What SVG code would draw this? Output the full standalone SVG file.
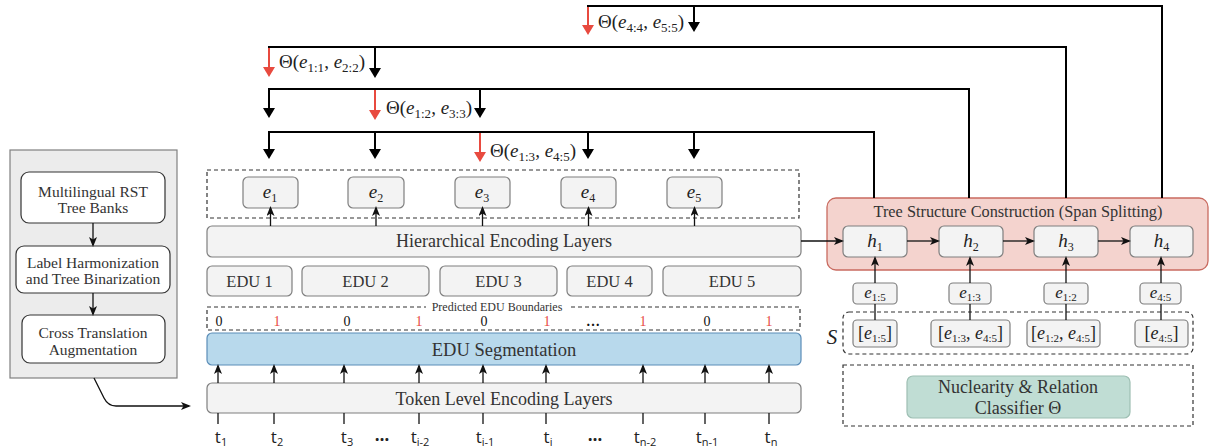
<svg xmlns="http://www.w3.org/2000/svg" width="1210" height="448" viewBox="0 0 1210 448">
<style>
.serif{font-family:"Liberation Serif","DejaVu Serif",serif;fill:#333}
.math{font-family:"Liberation Serif","DejaVu Serif",serif;fill:#222}
.it{font-style:italic}
.sans{font-family:"Open Sans","Liberation Sans",sans-serif;fill:#222}
.node{fill:#f3f3f3;stroke:#7f7f7f;stroke-width:1.2}
.wnode{fill:#fff;stroke:#333;stroke-width:1.2}
.dash{fill:none;stroke:#333;stroke-width:1.2;stroke-dasharray:4 3}
.big{fill:none;stroke:#000;stroke-width:2}
.bigr{fill:none;stroke:#e84a3f;stroke-width:2}
.thin{fill:none;stroke:#111;stroke-width:1.3}
</style>
<defs>
<marker id="ab" viewBox="0 0 10 12" refX="5" refY="6" markerWidth="10" markerHeight="12" markerUnits="userSpaceOnUse" orient="auto"><path d="M0,0 L10,6 L0,12 z" fill="#000"/></marker>
<marker id="ar" viewBox="0 0 10 12" refX="5" refY="6" markerWidth="10" markerHeight="12" markerUnits="userSpaceOnUse" orient="auto"><path d="M0,0 L10,6 L0,12 z" fill="#e84a3f"/></marker>
<marker id="as" viewBox="0 0 10 8" refX="8" refY="4" markerWidth="10" markerHeight="8" markerUnits="userSpaceOnUse" orient="auto"><path d="M0,0 L10,4 L0,8 L2.5,4 z" fill="#111"/></marker>
</defs>
<rect width="1210" height="448" fill="#fff"/>

<!-- Left panel -->
<g id="data-panel">
<rect x="10" y="150" width="167" height="228" fill="#ececec" stroke="#808080" stroke-width="1.2"/>
</g>
<g id="rst-banks">
<rect class="wnode" x="21" y="172" width="144" height="51" rx="8"/>
<text class="serif" x="93" y="197" font-size="15.5" text-anchor="middle" fill="#222">Multilingual RST</text>
<text class="serif" x="93" y="213" font-size="15.5" text-anchor="middle" fill="#222">Tree Banks</text>
</g>
<g id="label-harmonization">
<rect class="wnode" x="16" y="246" width="154" height="47" rx="8"/>
<text class="serif" x="93" y="268" font-size="15.5" text-anchor="middle" fill="#222">Label Harmonization</text>
<text class="serif" x="93" y="284" font-size="15.5" text-anchor="middle" fill="#222">and Tree Binarization</text>
</g>
<g id="cross-translation">
<rect class="wnode" x="22" y="315" width="143" height="48" rx="8"/>
<text class="serif" x="93" y="338" font-size="15.5" text-anchor="middle" fill="#222">Cross Translation</text>
<text class="serif" x="93" y="355" font-size="15.5" text-anchor="middle" fill="#222">Augmentation</text>
</g>

<!-- e nodes -->
<g id="e-nodes-box"><rect class="dash" x="207" y="170" width="592" height="48"/></g>
<g id="e1"><rect class="node" x="243" y="177" width="55" height="31" rx="5"/><text class="math" x="270" y="198" font-size="19" text-anchor="middle"><tspan class="it">e</tspan><tspan font-size="12" dy="4">1</tspan></text></g>
<g id="e2"><rect class="node" x="348" y="177" width="56" height="31" rx="5"/><text class="math" x="376" y="198" font-size="19" text-anchor="middle"><tspan class="it">e</tspan><tspan font-size="12" dy="4">2</tspan></text></g>
<g id="e3"><rect class="node" x="455" y="177" width="55" height="31" rx="5"/><text class="math" x="482" y="198" font-size="19" text-anchor="middle"><tspan class="it">e</tspan><tspan font-size="12" dy="4">3</tspan></text></g>
<g id="e4"><rect class="node" x="561" y="177" width="55" height="31" rx="5"/><text class="math" x="588" y="198" font-size="19" text-anchor="middle"><tspan class="it">e</tspan><tspan font-size="12" dy="4">4</tspan></text></g>
<g id="e5"><rect class="node" x="667" y="177" width="55" height="31" rx="5"/><text class="math" x="694" y="198" font-size="19" text-anchor="middle"><tspan class="it">e</tspan><tspan font-size="12" dy="4">5</tspan></text></g>

<g id="hier-enc"><rect class="node" x="207" y="226" width="594" height="31" rx="5"/><text class="serif" x="504" y="247" font-size="18" text-anchor="middle">Hierarchical Encoding Layers</text></g>

<g id="edu1"><rect class="node" x="207" y="266" width="85" height="30" rx="5"/><text class="serif" x="249.5" y="287" font-size="16.5" text-anchor="middle" fill="#111">EDU 1</text></g>
<g id="edu2"><rect class="node" x="302" y="266" width="127" height="30" rx="5"/><text class="serif" x="365.5" y="287" font-size="16.5" text-anchor="middle" fill="#111">EDU 2</text></g>
<g id="edu3"><rect class="node" x="440" y="266" width="117" height="30" rx="5"/><text class="serif" x="498.5" y="287" font-size="16.5" text-anchor="middle" fill="#111">EDU 3</text></g>
<g id="edu4"><rect class="node" x="567" y="266" width="85" height="30" rx="5"/><text class="serif" x="609.5" y="287" font-size="16.5" text-anchor="middle" fill="#111">EDU 4</text></g>
<g id="edu5"><rect class="node" x="663" y="266" width="138" height="30" rx="5"/><text class="serif" x="732" y="287" font-size="16.5" text-anchor="middle" fill="#111">EDU 5</text></g>

<g id="boundaries">
<rect class="dash" x="207" y="307" width="593" height="23"/>
<rect x="426" y="301" width="143" height="11" fill="#fff"/>
<text class="serif" x="497" y="311" font-size="12" text-anchor="middle" fill="#222">Predicted EDU Boundaries</text>
<g class="serif" font-size="14" text-anchor="middle">
<text x="219" y="326" fill="#111">0</text>
<text x="277" y="326" fill="#e84a3f">1</text>
<text x="347" y="326" fill="#111">0</text>
<text x="419" y="326" fill="#e84a3f">1</text>
<text x="484" y="326" fill="#111">0</text>
<text x="547" y="326" fill="#e84a3f">1</text>
<text x="593" y="326" fill="#111" font-weight="bold">…</text>
<text x="643" y="326" fill="#e84a3f">1</text>
<text x="707" y="326" fill="#111">0</text>
<text x="769" y="326" fill="#e84a3f">1</text>
</g>
</g>

<g id="edu-seg"><rect x="207" y="333" width="594" height="32" rx="5" fill="#b8d9ec" stroke="#5b8db8" stroke-width="1.2"/><text class="serif" x="504" y="356" font-size="18.5" text-anchor="middle" fill="#222">EDU Segmentation</text></g>

<g id="token-enc"><rect class="node" x="207" y="383" width="594" height="30" rx="5"/><text class="serif" x="504" y="405" font-size="18" text-anchor="middle">Token Level Encoding Layers</text></g>

<g id="tokens" class="sans" font-size="17" text-anchor="middle">
<text x="221" y="443">t<tspan font-size="11" dy="3">1</tspan></text>
<text x="277" y="443">t<tspan font-size="11" dy="3">2</tspan></text>
<text x="347" y="443">t<tspan font-size="11" dy="3">3</tspan></text>
<text x="382" y="441" font-weight="bold">…</text>
<text x="420" y="443">t<tspan font-size="11" dy="3">i-2</tspan></text>
<text x="485" y="443">t<tspan font-size="11" dy="3">i-1</tspan></text>
<text x="548" y="443">t<tspan font-size="11" dy="3">i</tspan></text>
<text x="595" y="441" font-weight="bold">…</text>
<text x="645" y="443">t<tspan font-size="11" dy="3">n-2</tspan></text>
<text x="707" y="443">t<tspan font-size="11" dy="3">n-1</tspan></text>
<text x="771" y="443">t<tspan font-size="11" dy="3">n</tspan></text>
</g>

<!-- Right side -->
<g id="tree-construction">
<rect x="827" y="198" width="381" height="72" rx="9" fill="#f4d3ce" stroke="#c96b60" stroke-width="1.3"/>
<text class="serif" x="1018" y="217" font-size="16.3" text-anchor="middle" fill="#222">Tree Structure Construction (Span Splitting)</text>
</g>
<g id="h1"><rect class="node" x="843" y="226" width="64" height="31" rx="5"/><text class="math" x="875" y="247" font-size="19" text-anchor="middle"><tspan class="it">h</tspan><tspan font-size="12" dy="4">1</tspan></text></g>
<g id="h2"><rect class="node" x="939" y="226" width="64" height="31" rx="5"/><text class="math" x="971" y="247" font-size="19" text-anchor="middle"><tspan class="it">h</tspan><tspan font-size="12" dy="4">2</tspan></text></g>
<g id="h3"><rect class="node" x="1034" y="226" width="64" height="31" rx="5"/><text class="math" x="1066" y="247" font-size="19" text-anchor="middle"><tspan class="it">h</tspan><tspan font-size="12" dy="4">3</tspan></text></g>
<g id="h4"><rect class="node" x="1130" y="226" width="63" height="31" rx="5"/><text class="math" x="1161.5" y="247" font-size="19" text-anchor="middle"><tspan class="it">h</tspan><tspan font-size="12" dy="4">4</tspan></text></g>

<g id="span15"><rect class="node" x="853" y="283" width="44" height="21" rx="4"/><text class="math" x="875" y="298" font-size="17" text-anchor="middle"><tspan class="it">e</tspan><tspan font-size="11" dy="3">1:5</tspan></text></g>
<g id="span13"><rect class="node" x="949" y="283" width="42" height="21" rx="4"/><text class="math" x="970" y="298" font-size="17" text-anchor="middle"><tspan class="it">e</tspan><tspan font-size="11" dy="3">1:3</tspan></text></g>
<g id="span12"><rect class="node" x="1044" y="283" width="44" height="21" rx="4"/><text class="math" x="1066" y="298" font-size="17" text-anchor="middle"><tspan class="it">e</tspan><tspan font-size="11" dy="3">1:2</tspan></text></g>
<g id="span45"><rect class="node" x="1140" y="283" width="41" height="21" rx="4"/><text class="math" x="1160.5" y="298" font-size="17" text-anchor="middle"><tspan class="it">e</tspan><tspan font-size="11" dy="3">4:5</tspan></text></g>

<g id="stack-S">
<rect class="dash" x="843" y="312" width="350" height="42" rx="6"/>
<text class="math it" x="832" y="344" font-size="21" text-anchor="middle">S</text>
</g>
<g id="s1"><rect class="node" x="853" y="320" width="44" height="27" rx="4"/><text class="math" x="875" y="339" font-size="18" text-anchor="middle">[<tspan class="it">e</tspan><tspan font-size="11" dy="3">1:5</tspan><tspan dy="-3">]</tspan></text></g>
<g id="s2"><rect class="node" x="931" y="320" width="79" height="27" rx="4"/><text class="math" x="970.5" y="339" font-size="18" text-anchor="middle">[<tspan class="it">e</tspan><tspan font-size="11" dy="3">1:3</tspan><tspan dy="-3">, </tspan><tspan class="it">e</tspan><tspan font-size="11" dy="3">4:5</tspan><tspan dy="-3">]</tspan></text></g>
<g id="s3"><rect class="node" x="1027" y="320" width="73" height="27" rx="4"/><text class="math" x="1063.5" y="339" font-size="18" text-anchor="middle">[<tspan class="it">e</tspan><tspan font-size="11" dy="3">1:2</tspan><tspan dy="-3">, </tspan><tspan class="it">e</tspan><tspan font-size="11" dy="3">4:5</tspan><tspan dy="-3">]</tspan></text></g>
<g id="s4"><rect class="node" x="1135" y="320" width="53" height="27" rx="4"/><text class="math" x="1161.5" y="339" font-size="18" text-anchor="middle">[<tspan class="it">e</tspan><tspan font-size="11" dy="3">4:5</tspan><tspan dy="-3">]</tspan></text></g>

<g id="classifier">
<rect class="dash" x="843" y="365" width="350" height="61"/>
<rect x="907" y="376" width="223" height="42" rx="6" fill="#c0ddd4" stroke="#9ebfb3" stroke-width="1.2"/>
<text class="serif" x="1018" y="393" font-size="18" text-anchor="middle" fill="#111">Nuclearity &amp; Relation</text>
<text class="serif" x="1018" y="414" font-size="18" text-anchor="middle" fill="#111">Classifier Θ</text>
</g>

<!-- Theta labels -->
<g id="theta-labels" class="math" font-size="19">
<text x="598" y="28">Θ(<tspan class="it">e</tspan><tspan font-size="13" dy="4">4:4</tspan><tspan dy="-4">, </tspan><tspan class="it">e</tspan><tspan font-size="13" dy="4">5:5</tspan><tspan dy="-4">)</tspan></text>
<text x="279" y="68">Θ(<tspan class="it">e</tspan><tspan font-size="13" dy="4">1:1</tspan><tspan dy="-4">, </tspan><tspan class="it">e</tspan><tspan font-size="13" dy="4">2:2</tspan><tspan dy="-4">)</tspan></text>
<text x="386" y="114">Θ(<tspan class="it">e</tspan><tspan font-size="13" dy="4">1:2</tspan><tspan dy="-4">, </tspan><tspan class="it">e</tspan><tspan font-size="13" dy="4">3:3</tspan><tspan dy="-4">)</tspan></text>
<text x="490" y="157">Θ(<tspan class="it">e</tspan><tspan font-size="13" dy="4">1:3</tspan><tspan dy="-4">, </tspan><tspan class="it">e</tspan><tspan font-size="13" dy="4">4:5</tspan><tspan dy="-4">)</tspan></text>
</g>

<!-- Connectors -->
<g id="connectors">
<line class="thin" x1="93" y1="223" x2="93" y2="245" marker-end="url(#as)"/>
<line class="thin" x1="93" y1="293" x2="93" y2="314" marker-end="url(#as)"/>
<path class="thin" d="M94,378 L104,398 Q108,406 116,406 L189,406" marker-end="url(#as)"/>
<line class="thin" x1="270.5" y1="226" x2="270.5" y2="208" marker-end="url(#as)"/>
<line class="thin" x1="376" y1="226" x2="376" y2="208" marker-end="url(#as)"/>
<line class="thin" x1="482.5" y1="226" x2="482.5" y2="208" marker-end="url(#as)"/>
<line class="thin" x1="588.5" y1="226" x2="588.5" y2="208" marker-end="url(#as)"/>
<line class="thin" x1="694.5" y1="226" x2="694.5" y2="208" marker-end="url(#as)"/>
<line class="thin" x1="801" y1="241" x2="842" y2="241" marker-end="url(#as)"/>
<g>
<line class="thin" x1="218" y1="413" x2="218" y2="424"/><line class="thin" x1="218" y1="383" x2="218" y2="366" marker-end="url(#as)"/>
<line class="thin" x1="274" y1="413" x2="274" y2="424"/><line class="thin" x1="274" y1="383" x2="274" y2="366" marker-end="url(#as)"/>
<line class="thin" x1="344" y1="413" x2="344" y2="424"/><line class="thin" x1="344" y1="383" x2="344" y2="366" marker-end="url(#as)"/>
<line class="thin" x1="419" y1="413" x2="419" y2="424"/><line class="thin" x1="419" y1="383" x2="419" y2="366" marker-end="url(#as)"/>
<line class="thin" x1="483" y1="413" x2="483" y2="424"/><line class="thin" x1="483" y1="383" x2="483" y2="366" marker-end="url(#as)"/>
<line class="thin" x1="546" y1="413" x2="546" y2="424"/><line class="thin" x1="546" y1="383" x2="546" y2="366" marker-end="url(#as)"/>
<line class="thin" x1="643" y1="413" x2="643" y2="424"/><line class="thin" x1="643" y1="383" x2="643" y2="366" marker-end="url(#as)"/>
<line class="thin" x1="705" y1="413" x2="705" y2="424"/><line class="thin" x1="705" y1="383" x2="705" y2="366" marker-end="url(#as)"/>
<line class="thin" x1="769" y1="413" x2="769" y2="424"/><line class="thin" x1="769" y1="383" x2="769" y2="366" marker-end="url(#as)"/>
</g>
<line class="thin" x1="907" y1="241" x2="938" y2="241" marker-end="url(#as)"/>
<line class="thin" x1="1003" y1="241" x2="1033" y2="241" marker-end="url(#as)"/>
<line class="thin" x1="1098" y1="241" x2="1129" y2="241" marker-end="url(#as)"/>
<line class="thin" x1="875" y1="283" x2="875" y2="258" marker-end="url(#as)"/>
<line class="thin" x1="970" y1="283" x2="970" y2="258" marker-end="url(#as)"/>
<line class="thin" x1="1066" y1="283" x2="1066" y2="258" marker-end="url(#as)"/>
<line class="thin" x1="1161" y1="283" x2="1161" y2="258" marker-end="url(#as)"/>
<line class="thin" x1="875" y1="304" x2="875" y2="320"/>
<line class="thin" x1="970" y1="304" x2="970" y2="320"/>
<line class="thin" x1="1066" y1="304" x2="1066" y2="320"/>
<line class="thin" x1="1161" y1="304" x2="1161" y2="320"/>

<path class="big" d="M269,150 V132 H874 V198"/>
<line class="big" x1="269" y1="132" x2="269" y2="154" marker-end="url(#ab)"/>
<line class="big" x1="375" y1="132" x2="375" y2="154" marker-end="url(#ab)"/>
<line class="bigr" x1="480" y1="133" x2="480" y2="157" marker-end="url(#ar)"/>
<line class="big" x1="588" y1="132" x2="588" y2="154" marker-end="url(#ab)"/>
<line class="big" x1="694" y1="132" x2="694" y2="154" marker-end="url(#ab)"/>

<path class="big" d="M269,108 V89 H969 V198"/>
<line class="big" x1="269" y1="89" x2="269" y2="113" marker-end="url(#ab)"/>
<line class="bigr" x1="375" y1="90" x2="375" y2="115" marker-end="url(#ar)"/>
<line class="big" x1="480" y1="89" x2="480" y2="113" marker-end="url(#ab)"/>

<path class="big" d="M269,50 V47 H1066 V198"/>
<line class="bigr" x1="269" y1="48" x2="269" y2="72" marker-end="url(#ar)"/>
<line class="big" x1="375" y1="47" x2="375" y2="73" marker-end="url(#ab)"/>

<path class="big" d="M588,8 V6 H1162 V198"/>
<line class="bigr" x1="588" y1="7" x2="588" y2="30" marker-end="url(#ar)"/>
<line class="big" x1="694" y1="6" x2="694" y2="27" marker-end="url(#ab)"/>
</g>
</svg>
